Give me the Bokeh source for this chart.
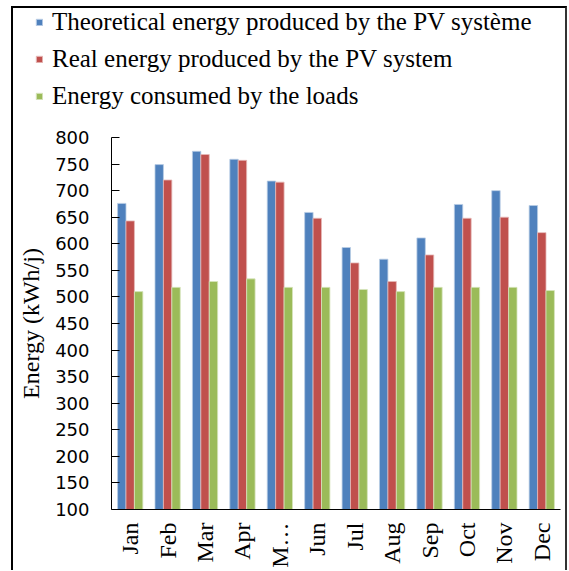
import math
from bokeh.plotting import figure
from bokeh.layouts import column
from bokeh.models import ColumnDataSource, FactorRange, Range1d, FixedTicker, Legend, LegendItem
from bokeh.transform import dodge
from bokeh.embed import file_html
from bokeh.resources import INLINE

months = ["Jan", "Feb", "Mar", "Apr", "M\u2026", "Jun", "Jul", "Aug", "Sep", "Oct", "Nov", "Dec"]
theoretical = [676, 749, 774, 759, 718, 659, 593, 571, 611, 674, 700, 672]
real = [643, 720, 768, 757, 716, 648, 564, 529, 579, 648, 650, 621]
consumed = [510, 518, 529, 534, 518, 518, 514, 510, 518, 518, 518, 512]
y_ticks = [100, 150, 200, 250, 300, 350, 400, 450, 500, 550, 600, 650, 700, 750, 800]
series_names = ["Theoretical energy produced by the PV syst\u00e8me",
                "Real energy produced by the PV system",
                "Energy consumed by the loads"]

colors = ["#4F81BD", "#C0504D", "#9BBB59"]
edges = ["#B9CDE5", "#E6B9B8", "#D7E4BD"]
W = 552

# ---- legend strip (swatch renderers sit outside the visible range) ----
lf = figure(width=W, height=112, output_backend="svg", toolbar_location=None,
            x_axis_type=None, y_axis_type=None, title_location=None,
            min_border_left=22, min_border_right=0, min_border_top=0, min_border_bottom=0,
            x_range=(0, 1), y_range=(0, 1))
lf.frame_align = False
lf.outline_line_color = None
lf.xgrid.grid_line_color = None
lf.ygrid.grid_line_color = None
items = []
for name, c, e in zip(series_names, colors, edges):
    r = lf.vbar(x=[-5], top=[-5], bottom=-6, width=0.1, fill_color=c, line_color=e)
    items.append(LegendItem(label=name, renderers=[r]))
legend = Legend(items=items, location="top_left")
legend.label_text_font = "Liberation Serif"
legend.label_text_font_size = "25px"
legend.label_text_color = "black"
legend.label_height = 28
legend.glyph_width = 8
legend.glyph_height = 8
legend.label_standoff = 9
legend.spacing = 9
legend.padding = 0
legend.margin = 0
legend.border_line_color = None
legend.background_fill_alpha = 0
lf.add_layout(legend, "center")

# ---- bar chart ----
src = ColumnDataSource(dict(month=months, theo=theoretical, real=real, cons=consumed))
p = figure(x_range=FactorRange(*months), y_range=Range1d(100, 800),
           width=W, height=450, output_backend="svg", toolbar_location=None,
           title_location=None,
           min_border_left=98, min_border_right=5, min_border_top=17, min_border_bottom=55)
p.frame_align = False

bw = 0.225
p.vbar(x=dodge("month", -bw, range=p.x_range), top="theo", bottom=100, width=bw, source=src,
       fill_color=colors[0], line_color=edges[0], line_width=0.8)
p.vbar(x=dodge("month", 0, range=p.x_range), top="real", bottom=100, width=bw, source=src,
       fill_color=colors[1], line_color=edges[1], line_width=0.8)
p.vbar(x=dodge("month", bw, range=p.x_range), top="cons", bottom=100, width=bw, source=src,
       fill_color=colors[2], line_color=edges[2], line_width=0.8)

p.xgrid.grid_line_color = None
p.ygrid.grid_line_color = None
p.outline_line_color = None

p.yaxis.ticker = FixedTicker(ticks=y_ticks)
p.yaxis.axis_line_color = "black"
p.yaxis.major_tick_line_color = "black"
p.yaxis.major_tick_in = 8
p.yaxis.major_tick_out = 0
p.yaxis.minor_tick_line_color = None
p.yaxis.major_label_standoff = 22
p.yaxis.major_label_text_font = "DejaVu Sans"
p.yaxis.major_label_text_font_size = "18px"
p.yaxis.major_label_text_color = "black"
p.yaxis.axis_label = "Energy (kWh/j)"
p.yaxis.axis_label_text_font = "Liberation Serif"
p.yaxis.axis_label_text_font_size = "24px"
p.yaxis.axis_label_text_font_style = "normal"
p.yaxis.axis_label_text_color = "black"
p.yaxis.axis_label_standoff = 8

p.xaxis.axis_line_color = "black"
p.xaxis.major_tick_line_color = None
p.xaxis.major_tick_in = 0
p.xaxis.major_tick_out = 0
p.xaxis.major_label_orientation = math.pi / 2
p.xaxis.major_label_standoff = 13
p.xaxis.major_label_text_font = "Liberation Serif"
p.xaxis.major_label_text_font_size = "24px"
p.xaxis.major_label_text_color = "black"
p.x_range.range_padding = 0
p.x_range.group_padding = 0

layout = column(lf, p, spacing=0)
layout.styles = {"border-left": "2px solid black", "border-top": "2px solid black",
                 "border-right": "2px solid #333333", "transform": "translate(11px, 6px)"}

open("out.html", "w").write(file_html(layout, INLINE))
